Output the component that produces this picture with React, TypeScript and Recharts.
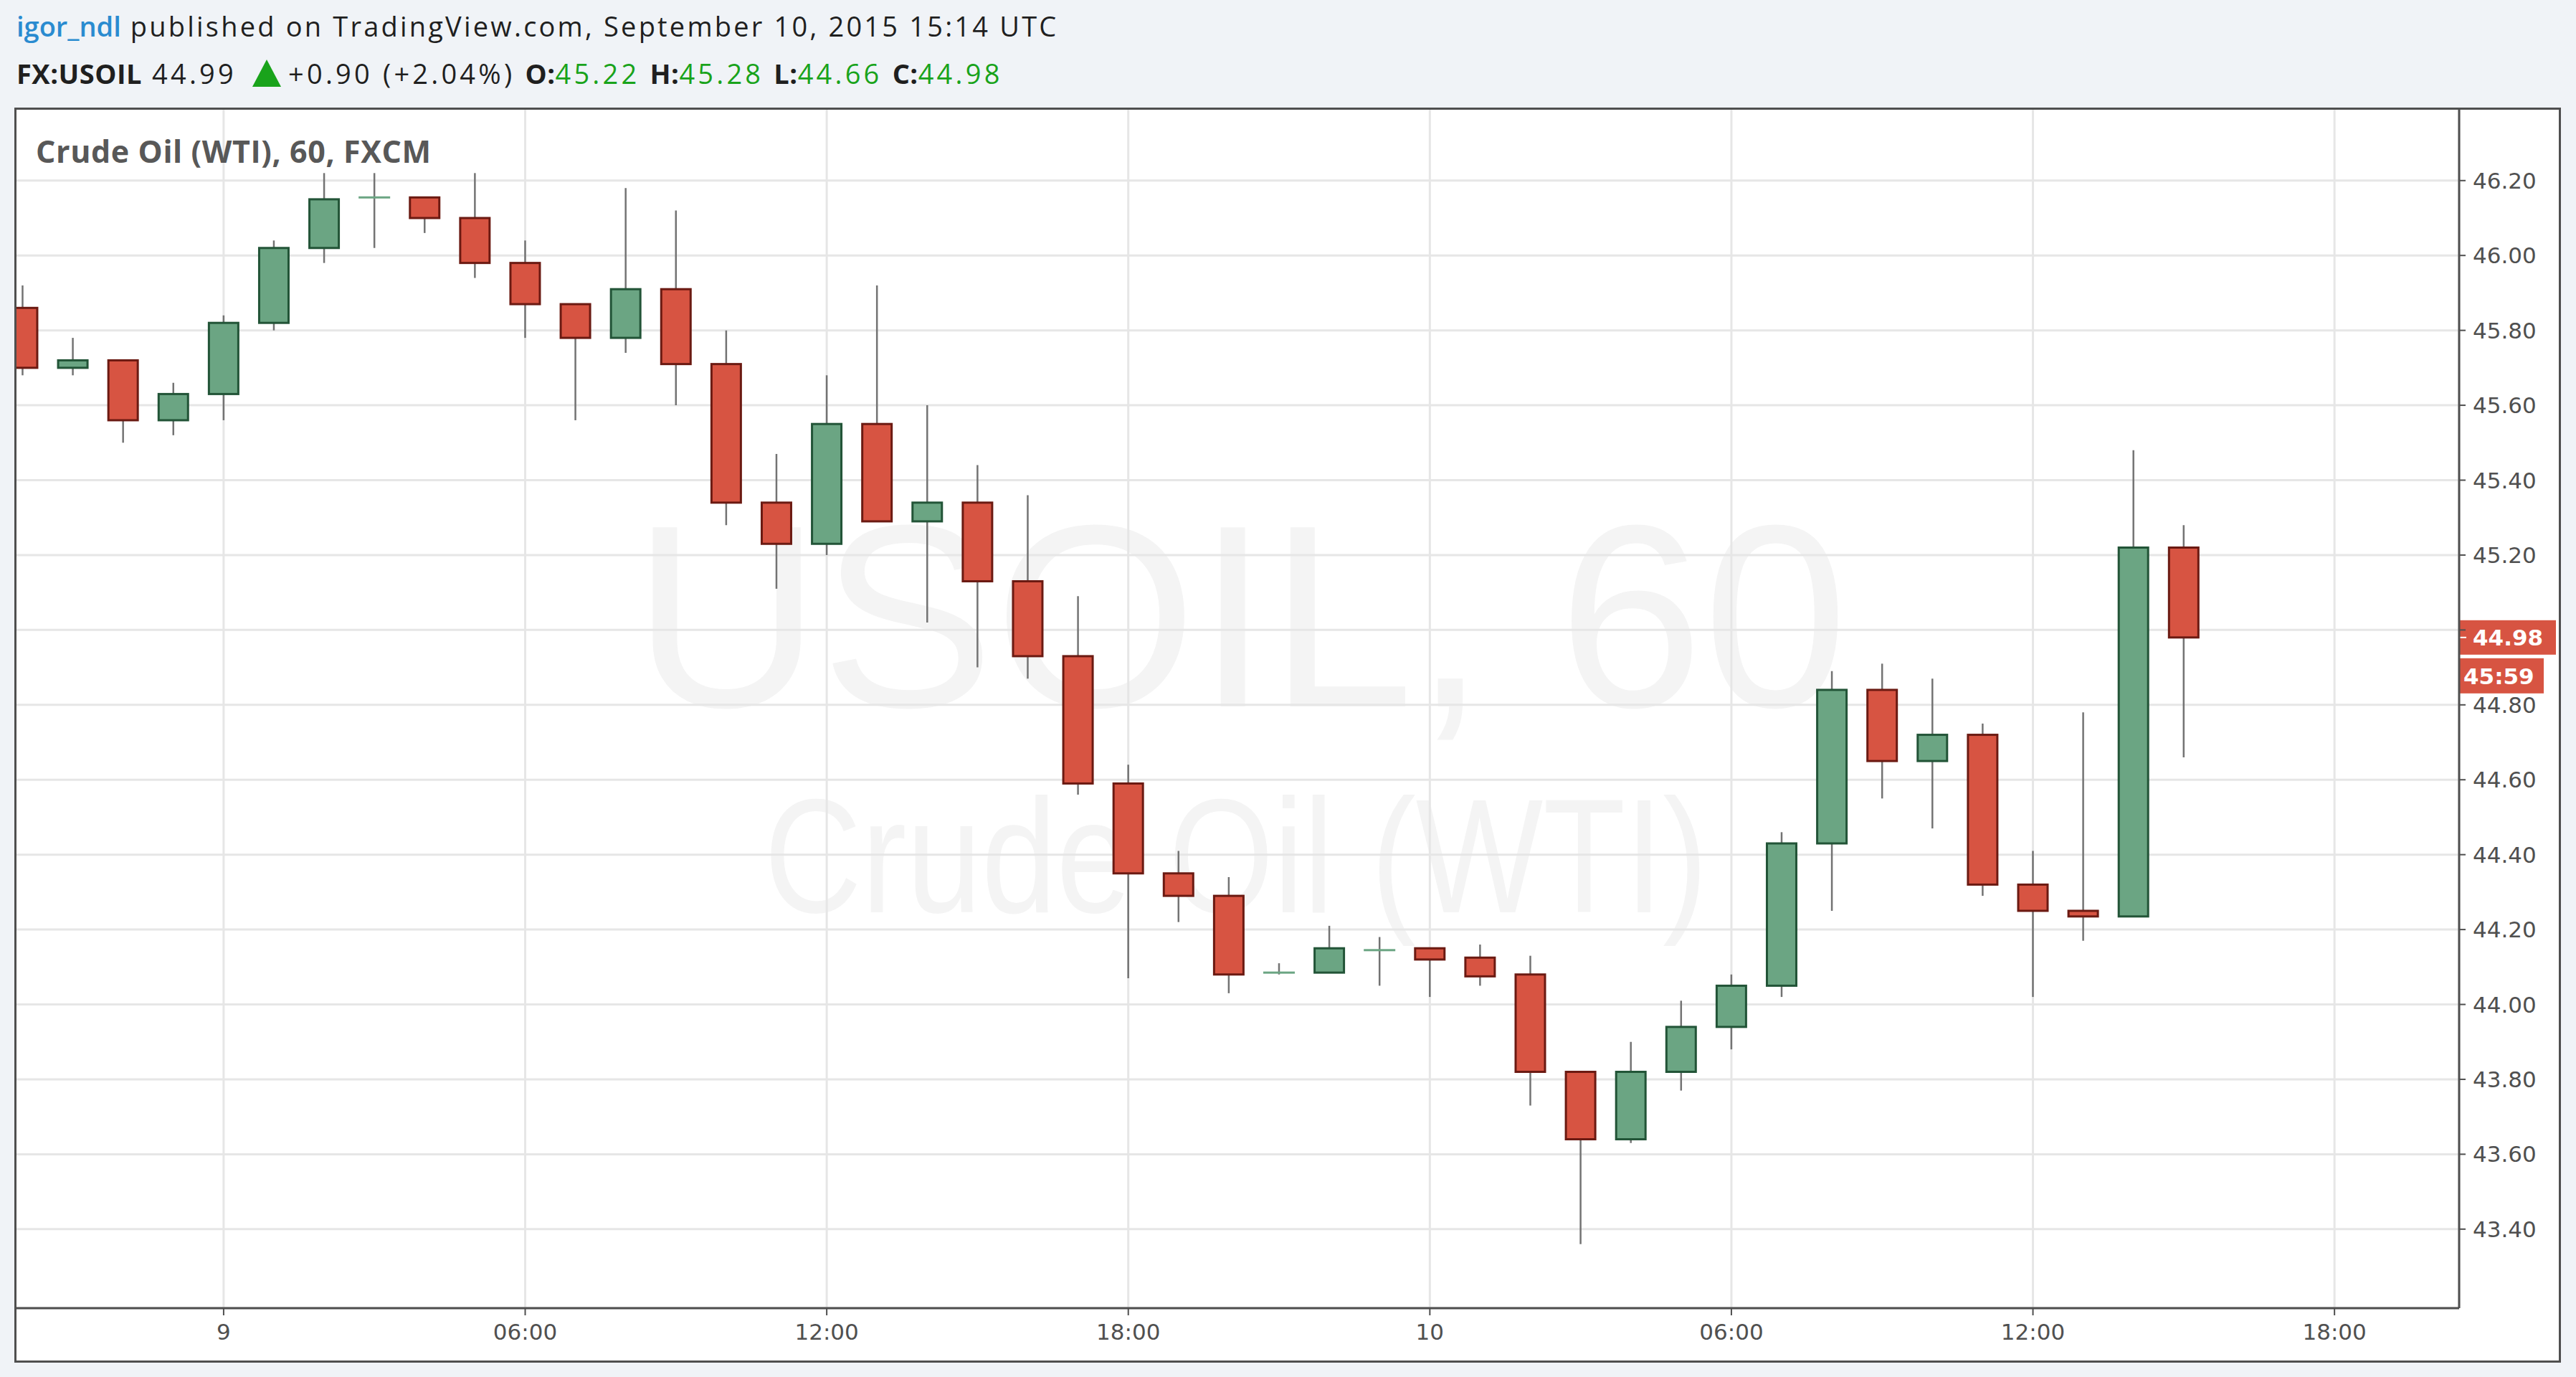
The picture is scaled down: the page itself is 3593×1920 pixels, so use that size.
import React from 'react';
import { ComposedChart, Bar, XAxis, YAxis, CartesianGrid, ReferenceLine } from 'recharts';

// 1h candles, hour offset from Sep 9 2015 00:00 UTC
const hours = [-4, -3, -2, -1, 0, 1, 2, 3, 4, 5, 6, 7, 8, 9, 10, 11, 12, 13, 14, 15, 16, 17, 18, 19, 20, 21, 22, 23, 24, 25, 26, 27, 28, 29, 30, 31, 32, 33, 34, 35, 36, 37, 38, 39];
const opens = [45.86, 45.7, 45.72, 45.56, 45.63, 45.82, 46.02, 46.15, 46.155, 46.1, 45.98, 45.87, 45.78, 45.91, 45.71, 45.34, 45.23, 45.55, 45.29, 45.34, 45.13, 44.93, 44.59, 44.35, 44.29, 44.08, 44.085, 44.145, 44.15, 44.125, 44.08, 43.82, 43.64, 43.82, 43.94, 44.05, 44.43, 44.84, 44.65, 44.72, 44.32, 44.25, 44.235, 45.22];
const highs = [45.92, 45.78, 45.72, 45.66, 45.84, 46.04, 46.22, 46.22, 46.155, 46.22, 46.04, 45.87, 46.18, 46.12, 45.8, 45.47, 45.68, 45.92, 45.6, 45.44, 45.36, 45.09, 44.64, 44.41, 44.34, 44.11, 44.21, 44.18, 44.15, 44.16, 44.13, 43.82, 43.9, 44.01, 44.08, 44.46, 44.89, 44.91, 44.87, 44.75, 44.41, 44.78, 45.48, 45.28];
const lows = [45.68, 45.68, 45.5, 45.52, 45.56, 45.8, 45.98, 46.02, 46.06, 45.94, 45.78, 45.56, 45.74, 45.6, 45.28, 45.11, 45.2, 45.29, 45.02, 44.9, 44.87, 44.56, 44.07, 44.22, 44.03, 44.08, 44.085, 44.05, 44.02, 44.05, 43.73, 43.36, 43.63, 43.77, 43.88, 44.02, 44.25, 44.55, 44.47, 44.29, 44.02, 44.17, 44.235, 44.66];
const closes = [45.7, 45.72, 45.56, 45.63, 45.82, 46.02, 46.15, 46.155, 46.1, 45.98, 45.87, 45.78, 45.91, 45.71, 45.34, 45.23, 45.55, 45.29, 45.34, 45.13, 44.93, 44.59, 44.35, 44.29, 44.08, 44.085, 44.15, 44.145, 44.12, 44.075, 43.82, 43.64, 43.82, 43.94, 44.05, 44.43, 44.84, 44.65, 44.72, 44.32, 44.25, 44.235, 45.22, 44.98];

const xTicks = [0, 6, 12, 18, 24, 30, 36, 42];
const xTickLabels = ['9', '06:00', '12:00', '18:00', '10', '06:00', '12:00', '18:00'];
const priceTicks = [43.4, 43.6, 43.8, 44.0, 44.2, 44.4, 44.6, 44.8, 45.0, 45.2, 45.4, 45.6, 45.8, 46.0, 46.2];
// label hidden behind the last-price tag
const hiddenPriceTick = 45.0;

const lastPrice = 44.98;
const countdown = '45:59';
const symbolTitle = 'Crude Oil (WTI), 60, FXCM';
const watermarkTop = 'USOIL, 60';
const watermarkBottom = 'Crude Oil (WTI)';

const GREEN = '#6ba583';
const GREEN_DARK = '#225437';
const RED = '#d75442';
const RED_DARK = '#6b1a12';
const WICK = '#737373';
const AXIS = '#4f4f4f';

const data = hours.map((h, i) => ({
  t: h,
  open: opens[i],
  high: highs[i],
  low: lows[i],
  close: closes[i],
}));

const Candle = (props: any) => {
  const { x, y, width, height, payload } = props;
  if (height == null || !payload) return null;
  const { open, close, high, low } = payload;
  const k = height / (high - low);
  const py = (p: number) => y + (high - p) * k;
  const cx = x + width / 2;
  const doji = Math.abs(close - open) < 0.008;
  const up = close >= open;
  const top = py(Math.max(open, close));
  const bottom = py(Math.min(open, close));
  return (
    <g>
      <line x1={cx} x2={cx} y1={y} y2={y + height} stroke={WICK} strokeWidth={2.5} />
      {doji ? (
        <rect x={x} y={top - 1.5} width={width} height={3} fill={GREEN} />
      ) : (
        <rect
          x={x + 1.5}
          y={top}
          width={width - 3}
          height={Math.max(bottom - top, 3)}
          fill={up ? GREEN : RED}
          stroke={up ? GREEN_DARK : RED_DARK}
          strokeWidth={3}
        />
      )}
    </g>
  );
};

const PriceTag = (props: any) => {
  const { viewBox } = props;
  const right = viewBox.x + viewBox.width;
  const cy = viewBox.y;
  return (
    <g>
      <rect x={right} y={cy - 24} width={135} height={48} fill={RED} />
      <line x1={right} x2={right + 10} y1={cy} y2={cy} stroke="#fff" strokeWidth={2} />
      <text x={right + 19} y={cy + 11} fill="#fff" fontFamily="DejaVu Sans" fontSize={31} fontWeight="bold">
        {lastPrice.toFixed(2)}
      </text>
      <rect x={right} y={cy + 29} width={118} height={49} fill={RED} />
      <text x={right + 6} y={cy + 65} fill="#fff" fontFamily="DejaVu Sans" fontSize={31} fontWeight="bold">
        {countdown}
      </text>
    </g>
  );
};

const tickStyle = { fontFamily: 'DejaVu Sans', fontSize: 31, fill: '#505050' };

const UpArrow = ({ color }: { color: string }) => (
  <svg width={40} height={38} style={{ verticalAlign: '-4px', margin: '0 10px 0 8px' }}>
    <polygon points="20,0 40,38 0,38" fill={color} />
  </svg>
);

export default function App() {
  const green = '#19a31b';
  const reg = { letterSpacing: '3.2px' };
  const reg2 = { letterSpacing: '4.2px' };
  const bold2 = { letterSpacing: '0.5px' };
  return (
    <div style={{ position: 'fixed', left: 0, top: 0, width: 3593, height: 1920, background: '#f0f3f7', fontFamily: 'Open Sans', overflow: 'hidden' }}>
      <div style={{ position: 'absolute', left: 23, top: 10, fontSize: 38, color: '#1f1f1f', whiteSpace: 'nowrap' }}>
        <span style={{ color: '#2a8bd0', fontWeight: 600 }}>igor_ndl</span>
        <span style={reg}> published on TradingView.com, September 10, 2015 15:14 UTC</span>
      </div>
      <div style={{ position: 'absolute', left: 23, top: 76, fontSize: 38, color: '#1f1f1f', whiteSpace: 'nowrap' }}>
        <b style={bold2}>FX:USOIL</b>
        <span style={reg2}> 44.99 </span>
        <UpArrow color={green} />
        <span style={reg2}>+0.90 (+2.04%) </span>
        <b style={bold2}>O:</b>
        <span style={{ ...reg2, color: green }}>45.22 </span>
        <b style={bold2}>H:</b>
        <span style={{ ...reg2, color: green }}>45.28 </span>
        <b style={bold2}>L:</b>
        <span style={{ ...reg2, color: green }}>44.66 </span>
        <b style={bold2}>C:</b>
        <span style={{ ...reg2, color: green }}>44.98</span>
      </div>

      <div style={{ position: 'absolute', left: 21, top: 151, width: 3550, height: 1748, background: '#fff' }} />
      <svg style={{ position: 'absolute', left: 21, top: 151 }} width={3409} height={1673}>
        <text x={1709} y={834} textAnchor="middle" fontFamily="Liberation Sans" fontSize={363} fill="#f4f4f4">
          {watermarkTop}
        </text>
        <text transform="translate(1703,1121) scale(1,1.2)" textAnchor="middle" fontFamily="Liberation Sans" fontSize={188} fill="#f4f4f4">
          {watermarkBottom}
        </text>
      </svg>

      <div style={{ position: 'absolute', left: 21, top: 151 }}>
        <ComposedChart width={3550} height={1748} data={data} margin={{ top: 0, right: 0, bottom: 0, left: 0 }}>
          <CartesianGrid stroke="#e6e6e6" strokeWidth={3} />
          <XAxis
            dataKey="t"
            type="number"
            domain={[-4.15, 44.48]}
            allowDataOverflow
            ticks={xTicks}
            tickFormatter={(v: number) => xTickLabels[xTicks.indexOf(v)]}
            height={75}
            axisLine={{ stroke: AXIS, strokeWidth: 3 }}
            tickLine={{ stroke: AXIS, strokeWidth: 2 }}
            tickSize={10}
            tickMargin={12}
            tick={tickStyle}
            interval={0}
          />
          <YAxis
            orientation="right"
            type="number"
            domain={[43.189, 46.393]}
            allowDataOverflow
            ticks={priceTicks}
            tickFormatter={(v: number) => (Math.abs(v - hiddenPriceTick) < 1e-6 ? '' : v.toFixed(2))}
            width={141}
            axisLine={{ stroke: AXIS, strokeWidth: 3 }}
            tickLine={{ stroke: AXIS, strokeWidth: 2 }}
            tickSize={9}
            tickMargin={10}
            tick={{ ...tickStyle, textAnchor: 'start' }}
            interval={0}
          />
          <Bar
            dataKey={(d: any) => [d.low, d.high]}
            barSize={44}
            shape={Candle}
            isAnimationActive={false}
          />
          <ReferenceLine y={lastPrice} stroke="none" label={PriceTag} />
        </ComposedChart>
      </div>

      <div style={{ position: 'absolute', left: 50, top: 181, fontSize: 43, letterSpacing: '0.6px', fontWeight: 700, color: '#585858', whiteSpace: 'nowrap' }}>
        {symbolTitle}
      </div>
      <div style={{ position: 'absolute', left: 20, top: 150, width: 3552, height: 1750, border: `3px solid ${AXIS}`, boxSizing: 'border-box', pointerEvents: 'none' }} />
    </div>
  );
}
